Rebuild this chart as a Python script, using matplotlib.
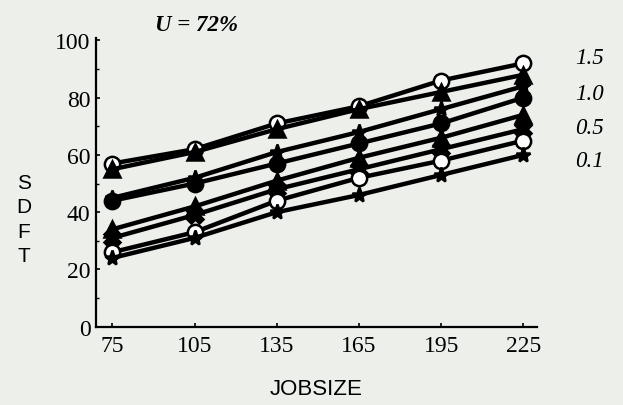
import numpy as np
import matplotlib.pyplot as plt

jobsize = [75, 105, 135, 165, 195, 225]

# SDFT curves, top to bottom at JOBSIZE = 75
sdft_a = [57, 62, 71, 77, 86, 92]
sdft_b = [55, 61, 69, 76, 82, 88]
sdft_c = [45, 52, 61, 68, 76, 84]
sdft_d = [44, 50, 57, 64, 71, 80]
sdft_e = [34, 42, 51, 59, 66, 74]
sdft_f = [31, 39, 48, 55, 62, 69]
sdft_g = [26, 33, 44, 52, 58, 65]
sdft_h = [24, 31, 40, 46, 53, 60]

curves = [sdft_a, sdft_b, sdft_c, sdft_d, sdft_e, sdft_f, sdft_g, sdft_h]
markers = ['o', '^', '*', 'o', '^', 'X', 'o', '*']
faces = ['white', 'black', 'black', 'black', 'black', 'black', 'white', 'black']

end_labels = ['1.5', '1.0', '0.5', '0.1']
end_label_y = [94, 81.5, 69.5, 58]

bg = '#edefeb'

if __name__ == '__main__':
    fig = plt.figure(figsize=(6.23, 4.06), dpi=100, facecolor=bg)
    ax = fig.add_axes([0.154, 0.193, 0.708, 0.712], facecolor=bg)

    for ys, m, fc in zip(curves, markers, faces):
        ax.plot(jobsize, ys, color='black', lw=3.2, marker=m, ms=11,
                mfc=fc, mec='black', mew=1.8, clip_on=False)

    ax.set_xlim(69, 230)
    ax.set_ylim(0, 101)
    ax.set_xticks(jobsize)
    ax.set_yticks([0, 20, 40, 60, 80, 100])
    ax.set_yticks(np.arange(10, 100, 20), minor=True)
    for s in ['top', 'right']:
        ax.spines[s].set_visible(False)
    for s in ['left', 'bottom']:
        ax.spines[s].set_linewidth(1.6)
    ax.tick_params(direction='in', length=3, width=1.2, pad=4,
                   labelsize=17, labelfontfamily='Liberation Serif')
    ax.tick_params(axis='x', pad=6)
    ax.tick_params(which='minor', direction='in', length=2, width=1)

    for lab, y in zip(end_labels, end_label_y):
        ax.text(244, y, lab, fontsize=16.5, family='Liberation Serif',
                style='italic', va='center', ha='left', clip_on=False)

    ax.text(0.135, 1.045, 'U = 72%', transform=ax.transAxes, fontsize=16.5,
            family='Liberation Serif', style='italic', fontweight='bold',
            va='center', ha='left')

    ax.set_xlabel('JOBSIZE', fontsize=16, family='Liberation Sans', labelpad=16)
    for i, ch in enumerate('SDFT'):
        fig.text(0.038, 0.548 - i * 0.06, ch, fontsize=15,
                 family='Liberation Sans', ha='center', va='center')

    plt.savefig('out.png', dpi=100, facecolor=bg)
